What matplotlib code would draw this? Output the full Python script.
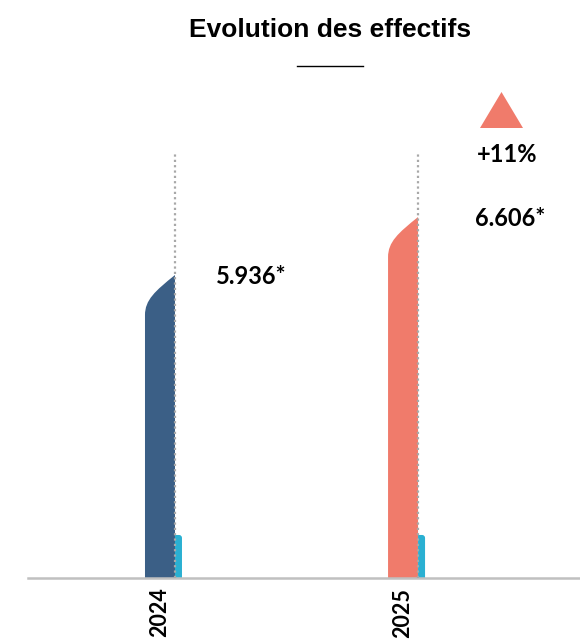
"""Evolution des effectifs - bar chart with sloped bar tops"""

import matplotlib
matplotlib.use("Agg")
import matplotlib.pyplot as plt
from matplotlib.path import Path
from matplotlib.patches import PathPatch, Polygon
from matplotlib.lines import Line2D

# Data
annees = ['2024', '2025']
effectifs = [5936, 6606]
autres = [2933, 2933]
couleurs = ['#3b5f86', '#f07b6b']
cyan = '#2ab0d2'

W, H = 580, 641
fig = plt.figure(figsize=(W / 100, H / 100), dpi=100)

# axes placed in pixel units (baseline at y=578 px)
ax_left, ax_bottom, ax_w, ax_h = 28, 63, 552, 478
ax = fig.add_axes([ax_left / W, ax_bottom / H, ax_w / W, ax_h / H])

y0, y1 = 2436, 7958
ax.set_ylim(y0, y1)
ax.set_xlim(-0.543, 1.728)

# pixel -> data unit conversion
kx = ax_w / (1.728 + 0.543)
ky = ax_h / (y1 - y0)


def px_x(p):
    return p / kx


def px_y(p):
    return p / ky


for i, (v, a) in enumerate(zip(effectifs, autres)):
    L = i - px_x(15)
    R = i + px_x(15)
    # main bar with a sloped / rounded top, highest on the right
    verts = [(L, y0), (L, v - px_y(40)),
             (L, v - px_y(25)), (L + px_x(10), v - px_y(16)), (R, v),
             (R, y0), (L, y0)]
    codes = [Path.MOVETO, Path.LINETO,
             Path.CURVE4, Path.CURVE4, Path.CURVE4,
             Path.LINETO, Path.CLOSEPOLY]
    ax.add_patch(PathPatch(Path(verts, codes), facecolor=couleurs[i],
                           edgecolor='none', zorder=2))

    # small cyan bar on the right, rounded top-right corner
    r = px_y(3)
    cw = px_x(7)
    cverts = [(R, y0), (R, a), (R + cw - px_x(3), a),
              (R + cw, a), (R + cw, a - r),
              (R + cw, y0), (R, y0)]
    ccodes = [Path.MOVETO, Path.LINETO, Path.LINETO,
              Path.CURVE3, Path.CURVE3,
              Path.LINETO, Path.CLOSEPOLY]
    ax.add_patch(PathPatch(Path(cverts, ccodes), facecolor=cyan,
                           edgecolor='none', zorder=2))

    # dotted guide line
    ax.plot([R, R], [y0, y0 + px_y(426)], linestyle=(0, (1, 1.4)),
            color='#a8a8a8', lw=1.6, zorder=3)

# axes styling
for s in ['top', 'right', 'left']:
    ax.spines[s].set_visible(False)
ax.spines['bottom'].set_color('#c0c0c0')
ax.spines['bottom'].set_linewidth(1.8)
ax.set_yticks([])
ax.set_xticks(range(len(annees)))
ax.set_xticklabels(annees, rotation=90, fontsize=15.5, fontweight='bold',
                   family='Lato')
ax.tick_params(axis='x', length=0, pad=7)


def fx(p):
    return p / W


def fy(p):
    return 1 - p / H


# value labels
fig.text(fx(216), fy(277), f"{effectifs[0]:,}".replace(',', '.') + '*',
         ha='left', va='center', fontsize=17, fontweight='bold', family='Lato')
fig.text(fx(475), fy(219), f"{effectifs[1]:,}".replace(',', '.') + '*',
         ha='left', va='center', fontsize=17, fontweight='bold', family='Lato')

# growth indicator
evol = round((effectifs[1] / effectifs[0] - 1) * 100)
fig.text(fx(477), fy(155), f"+{evol}%", ha='left', va='center',
         fontsize=17, fontweight='bold', family='Lato')
tri = Polygon([(fx(480), fy(128)), (fx(523), fy(128)), (fx(501.5), fy(92))],
              closed=True, transform=fig.transFigure, facecolor='#f07b6b',
              edgecolor='none')
fig.patches.append(tri)

# title and small underline
fig.text(fx(330), fy(30), "Evolution des effectifs", ha='center', va='center',
         fontsize=19, fontweight='bold', family='Liberation Sans')
fig.lines.append(Line2D([fx(297), fx(363)], [fy(66), fy(66)],
                        transform=fig.transFigure, color='black', lw=1))

fig.savefig('out.png', dpi=100)
